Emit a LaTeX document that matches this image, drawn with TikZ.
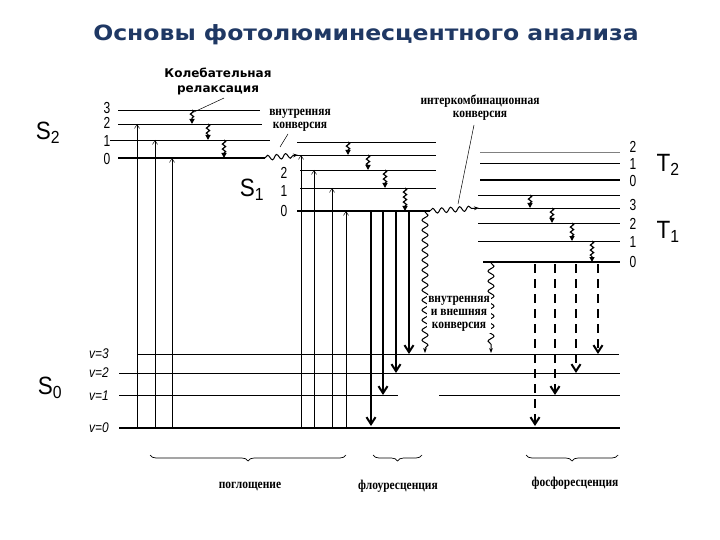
\documentclass[tikz,border=0pt]{standalone}
\usepackage{fontspec}
\setmainfont{Liberation Serif}
\newfontfamily\sansf{Liberation Sans}
\newfontfamily\titlef{DejaVu Sans}
\usetikzlibrary{arrows.meta,decorations.pathmorphing,decorations.pathreplacing}
\definecolor{titleblue}{HTML}{1F3864}
\begin{document}
\begin{tikzpicture}[x=1pt,y=-1pt,
  lev/.style={line width=0.8pt},
  levB/.style={line width=2.2pt},
  absarr/.style={line width=0.5pt,-{Straight Barb[length=4pt,width=5pt]}},
  fl/.style={line width=2pt,-{Straight Barb[length=7pt,width=9pt,line width=2pt]}},
  ph/.style={line width=2.4pt,dash pattern=on 9pt off 6pt,-{Straight Barb[length=7pt,width=9pt,line width=2pt]}},
  vr/.style={line width=1.2pt,decorate,decoration={snake,segment length=5pt,amplitude=1.6pt,post length=4pt},-{Triangle[length=5pt,width=5pt]}},
  wig/.style={line width=1pt,decorate,decoration={snake,segment length=9pt,amplitude=2.5pt,post length=5pt},-{Stealth[length=5pt]}},
  lab/.style={font=\sansf\fontsize{16}{16}\selectfont,xscale=0.75,inner sep=0pt},
  big/.style={font=\sansf\fontsize{25}{25}\selectfont,xscale=0.9},
  txt/.style={font=\bfseries\fontsize{13.5}{13}\selectfont,align=center,inner sep=0pt,xscale=0.85},
  br/.style={decorate,decoration={brace,mirror,amplitude=6pt},line width=0.7pt}]
\useasboundingbox (0,0) rectangle (720,540);
\node[font=\titlef\bfseries\fontsize{21}{20}\selectfont,text=titleblue,xscale=1.12] (title) at (366,35) {Основы фотолюминесцентного анализа};
\node[font=\titlef\bfseries\fontsize{12}{15}\selectfont,align=center] (vrl) at (218,81) {Колебательная\\релаксация};
% S2
\draw[lev] (118,110) -- (260,110);
\draw[lev] (118,124) -- (262,124);
\draw[lev] (110,140) -- (270,140);
\draw[levB] (118,158) -- (265,158);
\coordinate (s2z) at (265,158);
\coordinate (s1t) at (298,155);
\draw[wig] (s2z) -- (s1t);
\node[big] (S2) at (48,133) {S\textsubscript{2}};
\foreach \n/\y in {3/108,2/123,1/141,0/159} \node[lab] at (107,\y) {\n};
\foreach \x/\a/\b in {192/110/124,208/124/140,224/140/158}{
  \coordinate (a) at (\x,\a); \coordinate (b) at (\x,\b); \draw[vr] (a) -- (b);}
% S1
\draw[lev] (297,142) -- (436,142);
\draw[lev] (295,155) -- (436,155);
\draw[lev] (300,170) -- (436,170);
\draw[lev] (300,188) -- (436,188);
\draw[levB] (297,211) -- (430,211);
\node[big] (S1) at (252,190) {S\textsubscript{1}};
\foreach \n/\y in {2/173,1/191,0/211} \node[lab] at (284,\y) {\n};
\foreach \x/\a/\b in {348/142/155,368/155/170,385/170/188,405/188/211}{
  \coordinate (a) at (\x,\a); \coordinate (b) at (\x,\b); \draw[vr] (a) -- (b);}
\node[txt] (ic) at (300,120) {внутренняя\\конверсия};
\coordinate (icl) at (280,147);
\draw[line width=0.5pt] (288,134) -- (icl);
\coordinate (vrp) at (194,112);
\draw[line width=0.5pt] (vrl.south) ++(6,0) -- (vrp);
% T
\draw[lev,gray] (480,152) -- (620,152);
\draw[lev] (480,163) -- (620,163);
\draw[levB] (480,180) -- (620,180);
\draw[lev] (478,195) -- (620,195);
\draw[lev] (478,208) -- (620,208);
\draw[lev] (478,223) -- (620,223);
\draw[lev] (478,241) -- (620,241);
\draw[levB] (483,262) -- (620,262);
\foreach \n/\y in {2/147,1/164,0/181,3/205,2/224,1/242,0/262} \node[lab] at (633,\y) {\n};
\node[big] (T2) at (668,165) {T\textsubscript{2}};
\node[big] (T1) at (668,232) {T\textsubscript{1}};
\foreach \x/\a/\b in {530/195/208,552/208/223,572/223/241,592/241/262}{
  \coordinate (a) at (\x,\a); \coordinate (b) at (\x,\b); \draw[vr] (a) -- (b);}
\coordinate (s1z) at (430,211); \coordinate (t1t) at (479,208);
\draw[wig] (s1z) -- (t1t);
\node[txt] (isc) at (480,108) {интеркомбинационная\\конверсия};
\coordinate (iscl) at (458,204);
\draw[line width=0.5pt] (474,125) -- (iscl);
% S0
\draw[lev] (137,354) -- (619,354);
\draw[lev] (119,373) -- (620,373);
\draw[lev] (119,395) -- (398,395);
\draw[lev] (439,395) -- (620,395);
\draw[levB] (119,428) -- (620,428);
\node[big] (S0) at (50,388) {S\textsubscript{0}};
\foreach \n/\y in {3/354,2/373,1/396,0/428} \node[font=\sansf\itshape\fontsize{14}{14}\selectfont,xscale=0.85] at (99,\y) {v=\n};
% absorption
\foreach \x/\t in {137/124,155/140,172/158,301/155,314/170,332/188,346/211}{
  \coordinate (a) at (\x,428); \coordinate (b) at (\x,\t); \draw[absarr] (a) -- (b);}
% fluorescence
\foreach \x/\b in {371/426,383/395,396/373,409/354}{
  \coordinate (a) at (\x,211); \coordinate (b) at (\x,\b); \draw[fl] (a) -- (b);}
% phosphorescence
\foreach \x/\b in {535/426,555/395,576/373,598/354}{
  \coordinate (a) at (\x,264); \coordinate (b) at (\x,\b); \draw[ph] (a) -- (b);}
% internal/external conversion
\coordinate (ia) at (425,212); \coordinate (ib) at (425,353);
\draw[wig,decoration={snake,segment length=10pt,amplitude=3pt,post length=4pt}] (ia) -- (ib);
\coordinate (ja) at (491,263); \coordinate (jb) at (491,353);
\draw[wig,decoration={snake,segment length=10pt,amplitude=3pt,post length=4pt}] (ja) -- (jb);
\node[txt,fill=white,inner sep=1pt] (iec) at (459,314) {внутренняя\\и внешняя\\конверсия};
% braces
\draw[br] (150,455) -- (346,455);
\draw[br] (373,455) -- (422,455);
\draw[br] (526,455) -- (618,455);
\node[txt] (p1) at (250,486) {поглощение};
\node[txt] (p2) at (398,486) {флоуресценция};
\node[txt] (p3) at (575,483) {фосфоресценция};
\end{tikzpicture}
\end{document}
